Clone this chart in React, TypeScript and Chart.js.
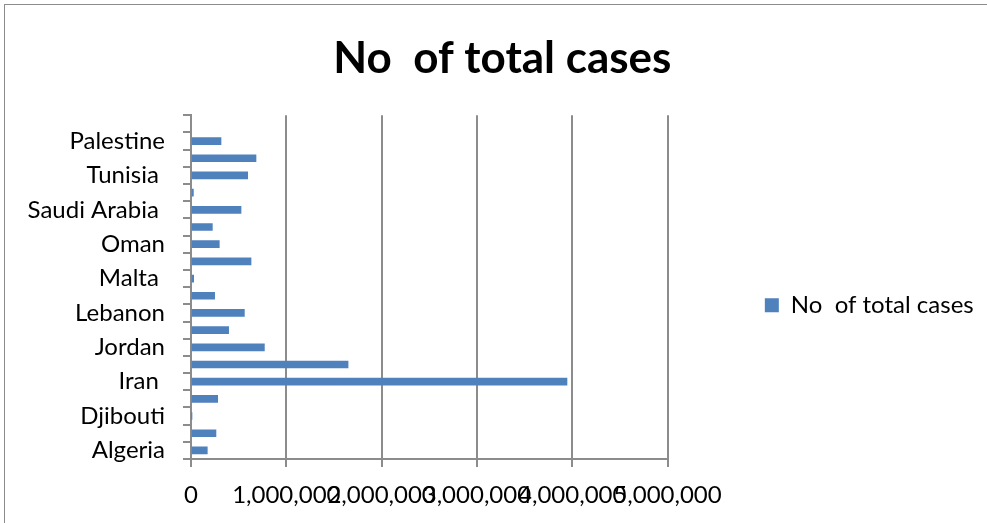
import React, { useEffect, useRef } from "react";
import { Chart, registerables } from "chart.js";

Chart.register(...registerables);

const chartTitle = "No  of total cases";
const seriesName = "No  of total cases";
const categories = [
  "Algeria", "Bahrain", "Djibouti", "Egypt", "Iran ", "Iraq", "Jordan", "Kuwait",
  "Lebanon", "Libya", "Malta ", "Morocco", "Oman", "Qatar", "Saudi Arabia ", "Syria",
  "Tunisia ", "UAE", "Palestine", "",
];
const totalCases = [
  171000, 262000, 6000, 280000, 3945000, 1648000, 770000, 395000,
  560000, 248000, 28000, 630000, 297000, 224000, 525000, 25000,
  595000, 682000, 315000, null,
];
const xTickValues = [0, 1000000, 2000000, 3000000, 4000000, 5000000];

const FONT = "Lato, 'Open Sans', sans-serif";
const GRID = "#8c8c8c";

const frame = {
  id: "frame",
  beforeDraw(chart: any) {
    const { ctx, width, height } = chart;
    ctx.save();
    ctx.fillStyle = "#ffffff";
    ctx.fillRect(0, 0, width, height);
    ctx.strokeStyle = "#8c8c8c";
    ctx.lineWidth = 1;
    ctx.strokeRect(4.5, 4.5, width + 20, height + 20);
    ctx.restore();
  },
};

export default function App() {
  const ref = useRef<HTMLCanvasElement>(null);
  useEffect(() => {
    document.body.style.margin = "0";
    const chart = new Chart(ref.current!, {
      type: "bar",
      data: {
        labels: categories,
        datasets: [
          {
            label: seriesName,
            data: totalCases,
            backgroundColor: "#4f81bd",
            borderWidth: 0,
            barThickness: 7,
          },
        ],
      },
      options: {
        indexAxis: "y",
        animation: false,
        responsive: false,
        layout: { padding: { left: 21, right: 3.3, top: 0, bottom: 0 } },
        plugins: {
          title: {
            display: true,
            text: chartTitle,
            color: "#000",
            font: { family: FONT, size: 44, weight: "bold", lineHeight: 1.2 },
            padding: { top: 32, bottom: 30.5 },
          },
          legend: {
            position: "right",
            fullSize: false,
            maxWidth: 330,
            title: {
              display: true,
              text: " ",
              font: { size: 10, lineHeight: 1 },
              padding: { top: 26.3, bottom: 0 },
            },
            labels: {
              boxWidth: 14,
              boxHeight: 14,
              padding: 97.3,
              color: "#000",
              font: { family: FONT, size: 24 },
            },
          },
          tooltip: { enabled: false },
        },
        scales: {
          x: {
            min: 0,
            max: 5000000,
            afterBuildTicks: (scale: any) => {
              scale.ticks = xTickValues.map((v) => ({ value: v }));
            },
            afterFit: (scale: any) => {
              scale.height = 64;
            },
            grid: { color: GRID, lineWidth: 2, tickLength: 8, drawOnChartArea: true },
            border: { color: GRID, width: 2 },
            ticks: {
              autoSkip: false,
              maxRotation: 0,
              minRotation: 0,
              padding: 14,
              color: "#000",
              font: { family: FONT, size: 24 },
              callback: (v: any) => Number(v).toLocaleString("en-US"),
            },
          },
          y: {
            reverse: true,
            afterFit: (scale: any) => {
              scale.width = 170;
            },
            grid: { color: GRID, lineWidth: 2, tickLength: 8, drawOnChartArea: false, offset: true },
            border: { color: GRID, width: 2 },
            ticks: {
              autoSkip: false,
              padding: 18,
              color: "#000",
              font: { family: FONT, size: 24 },
              callback: (_v: any, i: number) => (i % 2 === 0 ? categories[i] : ""),
            },
          },
        },
      },
      plugins: [frame],
    });
    return () => chart.destroy();
  }, []);
  return <canvas ref={ref} width={987} height={523} style={{ display: "block" }} />;
}
